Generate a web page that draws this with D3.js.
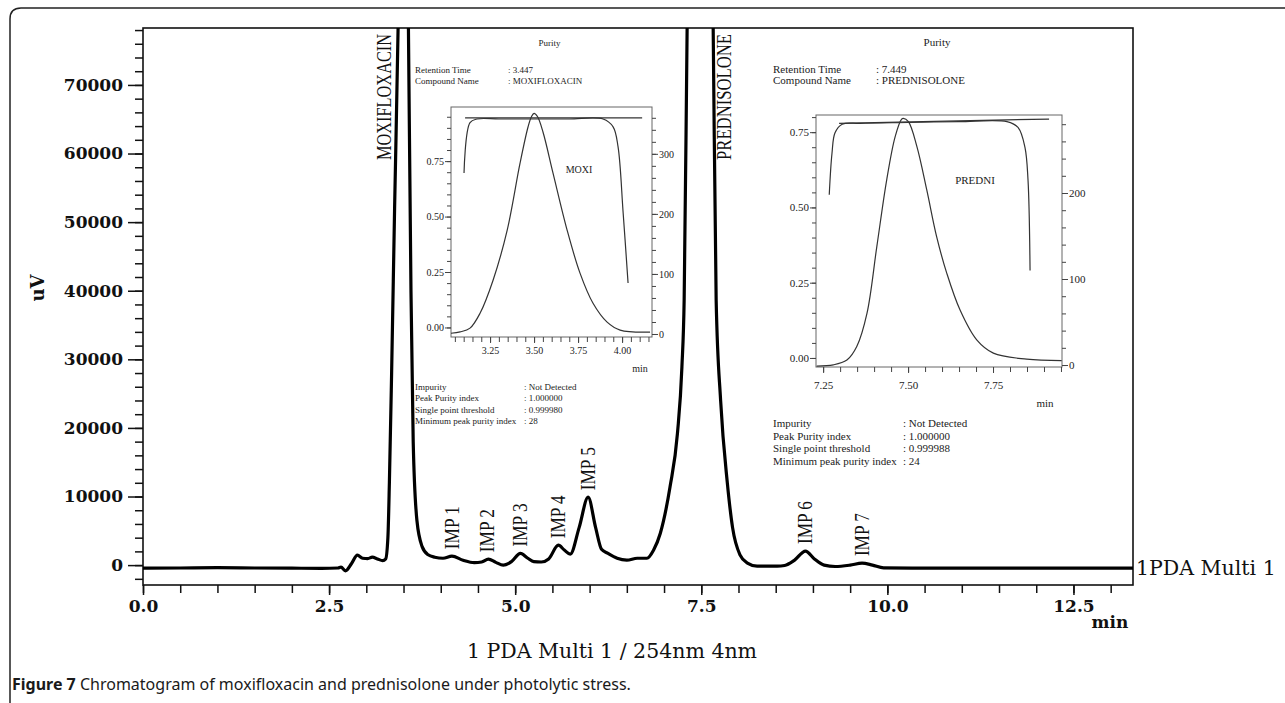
<!DOCTYPE html>
<html><head><meta charset="utf-8">
<script src="https://cdn.jsdelivr.net/npm/d3@7/dist/d3.min.js"></script>
<style>
body{margin:0;background:#fff;}
svg{display:block;}
</style></head><body>
<svg id="chart" width="1285" height="703"></svg>
<script>
// ---------------- DATA ----------------
// main chromatogram (time in min, signal in uV)
const chromTimes = [0.0,0.5,1.0,1.5,2.0,2.4,2.62,2.66,2.72,2.80,2.88,2.95,3.02,3.08,3.15,3.22,3.26,3.29,3.31,3.34,3.38,3.43,3.50,3.56,3.60,3.63,3.68,3.75,3.83,3.92,4.03,4.15,4.30,4.45,4.55,4.64,4.74,4.84,4.95,5.07,5.17,5.25,5.35,5.45,5.58,5.66,5.74,5.86,5.98,6.08,6.16,6.24,6.37,6.50,6.64,6.77,6.86,6.95,7.08,7.18,7.24,7.27,7.31,7.49,7.66,7.70,7.76,7.85,7.92,8.02,8.12,8.25,8.52,8.62,8.75,8.90,9.02,9.15,9.30,9.50,9.66,9.80,9.95,10.5,13.3];
const chromSignal = [-450,-420,-380,-420,-450,-470,-420,-290,-830,200,1450,1000,950,1150,900,650,900,4000,12000,28000,52000,80000,140000,85000,40000,18000,6500,2700,1500,1150,1000,1300,700,350,450,870,400,0,500,1700,1000,500,450,900,2900,2200,1600,5500,9900,5500,2300,1750,1000,730,1000,1000,2200,4650,11400,19200,28900,38600,78300,200000,78300,38600,24000,12000,5500,1500,300,-150,-150,-50,700,2040,900,0,-200,0,290,0,-400,-440,-440];

const yMajorTicks = [0,10000,20000,30000,40000,50000,60000,70000];
const xMajorTicks = [0.0,2.5,5.0,7.5,10.0,12.5];

const mainPeakNames = ["MOXIFLOXACIN","PREDNISOLONE"];
const mainPeakLabelTimes = [3.22,7.79];

const impNames = ["IMP 1","IMP 2","IMP 3","IMP 4","IMP 5","IMP 6","IMP 7"];
const impTimes = [4.15,4.62,5.07,5.58,5.98,8.90,9.66];
const impHeights = [1300,870,1700,2900,9900,2040,290];

// inset 1 : moxifloxacin purity
const moxiTimes = [3.028,3.08,3.136,3.193,3.267,3.347,3.42,3.466,3.485,3.50,3.52,3.551,3.608,3.688,3.761,3.835,3.915,3.989,4.159];
const moxiAbs   = [-0.026,-0.02,-0.003,0.064,0.213,0.438,0.74,0.905,0.950,0.965,0.950,0.880,0.695,0.438,0.245,0.109,0.024,-0.012,-0.021];
const moxiPurTimes = [3.102,3.136,3.176,3.30,3.50,3.70,3.892,3.949,3.977,4.006,4.034];
const moxiPur      = [268,352,358,358,358,358,358,345,312,202,85];
const moxiThrTimes = [3.108,4.114];
const moxiThr      = [360,360];
const moxiInfo = ["3.447","MOXIFLOXACIN"];
const moxiStats = ["Not Detected","1.000000","0.999980","28"];

// inset 2 : prednisolone purity
const predTimes = [7.231,7.280,7.320,7.349,7.379,7.408,7.437,7.462,7.481,7.486,7.501,7.526,7.555,7.584,7.614,7.653,7.702,7.751,7.849,7.952];
const predAbs   = [-0.027,-0.023,-0.007,0.038,0.148,0.370,0.591,0.735,0.793,0.796,0.785,0.702,0.558,0.403,0.281,0.159,0.060,0.016,-0.004,-0.009];
const predPurTimes = [7.268,7.276,7.285,7.306,7.359,7.50,7.65,7.791,7.824,7.844,7.853,7.859];
const predPur      = [198,246,270,280,281,282,283,283,276,253,215,110];
const predThrTimes = [7.297,7.915];
const predThr      = [281,286];
const predInfo = ["7.449","PREDNISOLONE"];
const predStats = ["Not Detected","1.000000","0.999988","24"];

const infoLabels = ["Retention Time","Compound Name"];
const statLabels = ["Impurity","Peak Purity index","Single point threshold","Minimum peak purity index"];

// ---------------- DRAWING ----------------
const svg = d3.select("#chart");
const serif = "'DejaVu Serif', serif";
const times = "'Liberation Serif', 'Times New Roman', serif";

// outer frame (rounded corner top-left)
svg.append("path")
  .attr("d","M10,720 L10,19 Q10,8 21,8 L1300,8")
  .attr("fill","none").attr("stroke","#222").attr("stroke-width",1.5);

const plot = {x0:143, x1:1133, y0:28, y1:585};
const x = d3.scaleLinear().domain([0,13.3]).range([plot.x0,plot.x1]);
const y = d3.scaleLinear().domain([-2900,78300]).range([plot.y1,plot.y0]);

svg.append("defs").append("clipPath").attr("id","clipMain")
  .append("rect").attr("x",plot.x0).attr("y",plot.y0)
  .attr("width",plot.x1-plot.x0).attr("height",plot.y1-plot.y0);

// y axis
const gyMinor = svg.append("g").attr("transform",`translate(${plot.x0},0)`)
  .call(d3.axisLeft(y).tickValues(d3.range(-2000,78001,2000)).tickSize(8).tickFormat(""));
const gyMajor = svg.append("g").attr("transform",`translate(${plot.x0},0)`)
  .call(d3.axisLeft(y).tickValues(yMajorTicks).tickSize(15).tickPadding(5).tickFormat(d3.format("d")));
// x axis
const gxMinor = svg.append("g").attr("transform",`translate(0,${plot.y1})`)
  .call(d3.axisBottom(x).tickValues(d3.range(0,13.01,0.5)).tickSize(8).tickFormat(""));
const gxMajor = svg.append("g").attr("transform",`translate(0,${plot.y1})`)
  .call(d3.axisBottom(x).tickValues(xMajorTicks).tickSize(10).tickPadding(5).tickFormat(d3.format(".1f")));
[gyMinor,gyMajor,gxMinor,gxMajor].forEach(g=>{
  g.select(".domain").remove();
  g.selectAll(".tick line").attr("stroke","#111").attr("stroke-width",1.5);
  g.selectAll(".tick text").attr("font-family",serif).attr("font-weight","bold")
    .attr("font-size",17).attr("fill","#111");
});

// plot frame
svg.append("rect").attr("x",plot.x0).attr("y",plot.y0)
  .attr("width",plot.x1-plot.x0).attr("height",plot.y1-plot.y0)
  .attr("fill","none").attr("stroke","#111").attr("stroke-width",1.6);

// chromatogram
const chrom = chromTimes.map((t,i)=>({t, v:chromSignal[i]}));
svg.append("path").datum(chrom)
  .attr("clip-path","url(#clipMain)")
  .attr("fill","none").attr("stroke","#000").attr("stroke-width",3.2)
  .attr("stroke-linejoin","round")
  .attr("d", d3.line().x(d=>x(d.t)).y(d=>y(d.v)).curve(d3.curveMonotoneX));

// axis titles
svg.append("text").attr("transform","translate(44,288) rotate(-90)")
  .attr("text-anchor","middle").attr("font-family",serif).attr("font-weight","bold")
  .attr("font-size",18).attr("fill","#111").text("uV");
svg.append("text").attr("x",1110).attr("y",628).attr("text-anchor","middle")
  .attr("font-family",serif).attr("font-weight","bold").attr("font-size",17).attr("fill","#111").text("min");
svg.append("text").attr("x",612).attr("y",658).attr("text-anchor","middle")
  .attr("font-family",serif).attr("font-size",20.5).attr("fill","#111").text("1 PDA Multi 1 / 254nm 4nm");
svg.append("text").attr("x",plot.x1+3).attr("y",y(chromSignal[chromSignal.length-1])+7)
  .attr("font-family",serif).attr("font-size",20.5).attr("fill","#111").text("1PDA Multi 1");

// rotated, horizontally condensed label helper
function vlabel(cx, yy, s, size, target, anchor){
  const t = svg.append("text").attr("text-anchor",anchor).attr("font-family",times)
    .attr("font-size",size).attr("fill","#111").text(s);
  const len = t.node().getComputedTextLength();
  const k = target/len;
  t.attr("transform",`translate(${cx},${yy}) rotate(-90) scale(${k},1)`);
}
// main peak names (rotated)
mainPeakNames.forEach((n,i)=>{
  vlabel(x(mainPeakLabelTimes[i]) + 8, plot.y0+6, n, 22, 126, "end");
});
// impurity labels
impNames.forEach((n,i)=>{
  vlabel(x(impTimes[i]) + 7, y(impHeights[i]) - 7, n, 20, 43, "start");
});

// ---------------- INSETS ----------------
function drawInset(cfg){
  const g = svg.append("g");
  const fs = cfg.fs;
  const ix = d3.scaleLinear().domain(cfg.xDom).range([cfg.bx0,cfg.bx1]);
  const iyL = d3.scaleLinear().domain(cfg.yLDom).range([cfg.by1,cfg.by0]);
  const iyR = d3.scaleLinear().domain(cfg.yRDom).range([cfg.by1,cfg.by0]);
  const txt = (xx,yy,s,anchor="start",size=cfg.tfs)=>g.append("text").attr("x",xx).attr("y",yy)
     .attr("text-anchor",anchor).attr("font-family",times).attr("font-size",size).attr("fill","#222").text(s);
  // header
  txt((cfg.bx0+cfg.bx1)/2 - 2, 46, "Purity","middle");
  infoLabels.forEach((l,i)=>{ txt(cfg.tx0, 73+i*11.3, l); txt(cfg.tx1, 73+i*11.3, ": "+cfg.info[i]); });
  statLabels.forEach((l,i)=>{ txt(cfg.tx0, cfg.statY+i*cfg.statDy, l); txt(cfg.sx1, cfg.statY+i*cfg.statDy, ": "+cfg.stats[i]); });
  // box
  g.append("rect").attr("x",cfg.bx0).attr("y",cfg.by0).attr("width",cfg.bx1-cfg.bx0).attr("height",cfg.by1-cfg.by0)
    .attr("fill","none").attr("stroke","#666").attr("stroke-width",1);
  const style = (a)=>{ a.select(".domain").remove(); a.selectAll(".tick line").attr("stroke","#444");
     a.selectAll(".tick text").attr("font-family",times).attr("font-size",fs).attr("fill","#222"); };
  g.append("g").attr("transform",`translate(${cfg.bx0},0)`)
    .call(d3.axisLeft(iyL).tickValues(cfg.yLMinor).tickSize(4).tickFormat("")).call(style);
  g.append("g").attr("transform",`translate(${cfg.bx0},0)`)
    .call(d3.axisLeft(iyL).tickValues([0,0.25,0.5,0.75]).tickSize(6).tickPadding(1).tickFormat(d3.format(".2f"))).call(style);
  g.append("g").attr("transform",`translate(${cfg.bx1},0)`)
    .call(d3.axisRight(iyR).tickValues(cfg.yRMinor).tickSize(4).tickFormat("")).call(style);
  g.append("g").attr("transform",`translate(${cfg.bx1},0)`)
    .call(d3.axisRight(iyR).tickValues(cfg.yRMajor).tickSize(6).tickPadding(1).tickFormat(d3.format("d"))).call(style);
  g.append("g").attr("transform",`translate(0,${cfg.by1})`)
    .call(d3.axisBottom(ix).tickValues(cfg.xMinor).tickSize(5).tickFormat("")).call(style);
  g.append("g").attr("transform",`translate(0,${cfg.by1})`)
    .call(d3.axisBottom(ix).tickValues(cfg.xMajor).tickSize(6).tickPadding(cfg.xPad).tickFormat(d3.format(".2f"))).call(style);
  txt(cfg.minX, cfg.minY, "min","middle", fs);
  txt(cfg.nameX, cfg.nameY, cfg.name,"middle", fs);
  // curves
  const lineL = d3.line().x(d=>ix(d[0])).y(d=>iyL(d[1])).curve(d3.curveCatmullRom);
  const lineR = d3.line().x(d=>ix(d[0])).y(d=>iyR(d[1])).curve(d3.curveCatmullRom);
  g.append("path").datum(cfg.absT.map((t,i)=>[t,cfg.absV[i]])).attr("d",lineL)
    .attr("fill","none").attr("stroke","#333").attr("stroke-width",1.2);
  g.append("path").datum(cfg.purT.map((t,i)=>[t,cfg.purV[i]])).attr("d",lineR)
    .attr("fill","none").attr("stroke","#333").attr("stroke-width",1.2);
  g.append("path").datum(cfg.thrT.map((t,i)=>[t,cfg.thrV[i]])).attr("d",d3.line().x(d=>ix(d[0])).y(d=>iyR(d[1])))
    .attr("fill","none").attr("stroke","#333").attr("stroke-width",1.2);
}

drawInset({
  fs:10, tfs:9, bx0:451, bx1:652, by0:107, by1:337,
  xDom:[3.028,4.17], yLDom:[-0.043,0.994], yRDom:[-5,378],
  yLMinor:d3.range(0,0.951,0.05), yRMinor:d3.range(0,361,20), yRMajor:[0,100,200,300],
  xMinor:d3.range(3.05,4.151,0.05), xMajor:[3.25,3.5,3.75,4.0], xPad:4,
  tx0:415, tx1:508, sx1:524, statY:389.5, statDy:11.6,
  info:moxiInfo, stats:moxiStats,
  minX:640, minY:372, nameX:579, nameY:173, name:"MOXI",
  absT:moxiTimes, absV:moxiAbs, purT:moxiPurTimes, purV:moxiPur, thrT:moxiThrTimes, thrV:moxiThr
});
drawInset({
  fs:11, tfs:11, bx0:816, bx1:1062, by0:115, by1:367,
  xDom:[7.229,7.953], yLDom:[-0.030,0.807], yRDom:[-2.3,290.7],
  yLMinor:d3.range(0,0.801,0.05), yRMinor:d3.range(0,281,20), yRMajor:[0,100,200],
  xMinor:d3.range(7.25,7.951,0.05), xMajor:[7.25,7.5,7.75], xPad:8,
  tx0:773, tx1:876, sx1:903, statY:427, statDy:12.7,
  info:predInfo, stats:predStats,
  minX:1045, minY:407, nameX:975, nameY:184, name:"PREDNI",
  absT:predTimes, absV:predAbs, purT:predPurTimes, purV:predPur, thrT:predThrTimes, thrV:predThr
});

// caption
const cap = svg.append("text").attr("x",12).attr("y",690)
  .attr("font-family","'Noto Sans', 'Open Sans', sans-serif").attr("font-size",16).attr("fill","#1a1a1a");
cap.append("tspan").attr("font-weight","bold").text("Figure 7");
cap.append("tspan").text(" Chromatogram of moxifloxacin and prednisolone under photolytic stress.");
</script>
</body></html>
